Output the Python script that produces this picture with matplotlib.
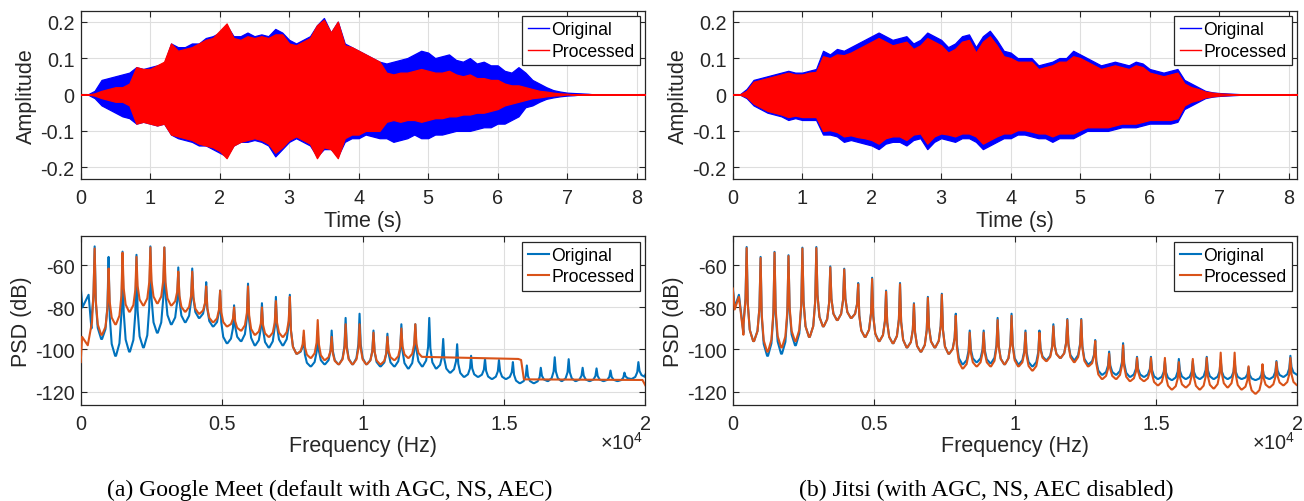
import matplotlib
matplotlib.use("Agg")
import matplotlib.pyplot as plt
from matplotlib.lines import Line2D
import numpy as np

plt.rcParams['font.family'] = ['Liberation Sans', 'DejaVu Sans']
plt.rcParams['mathtext.fontset'] = 'custom'
plt.rcParams['mathtext.rm'] = 'Liberation Sans'
plt.rcParams['mathtext.default'] = 'regular'

# ---------------- waveform envelopes (time in s) ----------------
t_env = [0.0, 0.1, 0.2, 0.3, 0.4, 0.5, 0.6, 0.7, 0.8, 0.9,
         1.0, 1.1, 1.2, 1.3, 1.4, 1.5, 1.6, 1.7, 1.8, 1.9,
         2.0, 2.1, 2.2, 2.3, 2.4, 2.5, 2.6, 2.7, 2.8, 2.9,
         3.0, 3.1, 3.2, 3.3, 3.4, 3.5, 3.6, 3.7, 3.8, 3.9,
         4.0, 4.1, 4.2, 4.3, 4.4, 4.5, 4.6, 4.7, 4.8, 4.9,
         5.0, 5.1, 5.2, 5.3, 5.4, 5.5, 5.6, 5.7, 5.8, 5.9,
         6.0, 6.1, 6.2, 6.3, 6.4, 6.5, 6.6, 6.7, 6.8, 6.9,
         7.0, 7.1, 7.2, 7.3, 7.4, 7.5, 8.12]

# (a) Google Meet
meet_orig_upper = [0, 0, 0.01, 0.04, 0.045, 0.05, 0.055, 0.06, 0.075, 0.07,
                   0.075, 0.08, 0.085, 0.14, 0.13, 0.13, 0.14, 0.14, 0.155, 0.16,
                   0.17, 0.19, 0.16, 0.16, 0.17, 0.16, 0.165, 0.16, 0.18, 0.17,
                   0.15, 0.14, 0.15, 0.16, 0.19, 0.21, 0.17, 0.2, 0.14, 0.13,
                   0.12, 0.11, 0.1, 0.09, 0.085, 0.09, 0.095, 0.1, 0.11, 0.12,
                   0.115, 0.1, 0.105, 0.11, 0.095, 0.09, 0.1, 0.085, 0.09, 0.08,
                   0.08, 0.065, 0.06, 0.075, 0.06, 0.04, 0.03, 0.02, 0.012, 0.008,
                   0.005, 0.004, 0.003, 0.002, 0, 0, 0]
meet_orig_lower = [0, 0, -0.01, -0.03, -0.04, -0.05, -0.06, -0.065, -0.08, -0.075,
                   -0.08, -0.085, -0.08, -0.11, -0.12, -0.125, -0.13, -0.14, -0.14, -0.15,
                   -0.16, -0.17, -0.14, -0.13, -0.13, -0.125, -0.13, -0.14, -0.17, -0.15,
                   -0.13, -0.12, -0.13, -0.14, -0.17, -0.15, -0.15, -0.17, -0.13, -0.12,
                   -0.12, -0.11, -0.115, -0.12, -0.12, -0.13, -0.125, -0.12, -0.11, -0.12,
                   -0.12, -0.11, -0.11, -0.105, -0.1, -0.1, -0.1, -0.095, -0.09, -0.09,
                   -0.08, -0.08, -0.07, -0.06, -0.035, -0.03, -0.02, -0.012, -0.008, -0.005,
                   -0.003, -0.002, 0, 0, 0, 0, 0]
meet_proc_upper = [0, 0, 0.003, 0.01, 0.015, 0.02, 0.02, 0.03, 0.075, 0.07,
                   0.07, 0.08, 0.09, 0.14, 0.12, 0.125, 0.13, 0.14, 0.15, 0.155,
                   0.175, 0.195, 0.155, 0.15, 0.16, 0.155, 0.16, 0.155, 0.165, 0.165,
                   0.14, 0.135, 0.145, 0.155, 0.19, 0.205, 0.17, 0.2, 0.135, 0.13,
                   0.12, 0.11, 0.1, 0.09, 0.06, 0.055, 0.06, 0.06, 0.065, 0.07,
                   0.065, 0.06, 0.06, 0.065, 0.055, 0.05, 0.055, 0.045, 0.045, 0.04,
                   0.04, 0.03, 0.025, 0.025, 0.02, 0.015, 0.01, 0.008, 0.005, 0.003,
                   0.002, 0, 0, 0, 0, 0, 0]
meet_proc_lower = [0, 0, -0.003, -0.01, -0.015, -0.02, -0.02, -0.03, -0.08, -0.075,
                   -0.08, -0.085, -0.08, -0.11, -0.115, -0.12, -0.125, -0.135, -0.14, -0.145,
                   -0.155, -0.175, -0.14, -0.13, -0.125, -0.12, -0.125, -0.135, -0.16, -0.145,
                   -0.125, -0.115, -0.125, -0.135, -0.175, -0.145, -0.15, -0.175, -0.12, -0.11,
                   -0.11, -0.1, -0.1, -0.1, -0.075, -0.07, -0.075, -0.07, -0.07, -0.075,
                   -0.07, -0.065, -0.065, -0.06, -0.06, -0.055, -0.055, -0.05, -0.05, -0.045,
                   -0.04, -0.03, -0.025, -0.02, -0.015, -0.01, -0.008, -0.005, -0.003, -0.002,
                   0, 0, 0, 0, 0, 0, 0]

# (b) Jitsi
jitsi_orig_upper = [0, 0, 0.015, 0.04, 0.045, 0.05, 0.055, 0.06, 0.065, 0.06,
                    0.06, 0.065, 0.07, 0.12, 0.11, 0.125, 0.12, 0.13, 0.14, 0.15,
                    0.16, 0.17, 0.16, 0.15, 0.155, 0.16, 0.14, 0.15, 0.17, 0.16,
                    0.15, 0.13, 0.14, 0.16, 0.165, 0.13, 0.16, 0.175, 0.15, 0.12,
                    0.115, 0.1, 0.1, 0.1, 0.08, 0.085, 0.09, 0.1, 0.1, 0.12,
                    0.11, 0.1, 0.09, 0.08, 0.085, 0.09, 0.085, 0.08, 0.09, 0.085,
                    0.07, 0.065, 0.06, 0.065, 0.07, 0.04, 0.03, 0.02, 0.01, 0.006,
                    0.004, 0.003, 0.002, 0.001, 0, 0, 0]
jitsi_orig_lower = [0, 0, -0.01, -0.03, -0.04, -0.05, -0.055, -0.06, -0.07, -0.065,
                    -0.07, -0.07, -0.07, -0.11, -0.11, -0.115, -0.13, -0.125, -0.13, -0.135,
                    -0.14, -0.15, -0.135, -0.13, -0.13, -0.14, -0.125, -0.12, -0.15, -0.13,
                    -0.12, -0.125, -0.13, -0.12, -0.12, -0.13, -0.15, -0.14, -0.13, -0.12,
                    -0.12, -0.11, -0.11, -0.115, -0.12, -0.12, -0.13, -0.12, -0.12, -0.12,
                    -0.11, -0.1, -0.1, -0.1, -0.1, -0.095, -0.09, -0.09, -0.09, -0.085,
                    -0.08, -0.08, -0.08, -0.08, -0.075, -0.04, -0.03, -0.02, -0.01, -0.006,
                    -0.004, -0.003, -0.002, -0.001, 0, 0, 0]
jitsi_proc_upper = [0, 0, 0.01, 0.035, 0.04, 0.045, 0.05, 0.055, 0.06, 0.055,
                    0.055, 0.06, 0.062, 0.105, 0.1, 0.11, 0.108, 0.115, 0.125, 0.135,
                    0.145, 0.155, 0.145, 0.135, 0.14, 0.145, 0.125, 0.135, 0.155, 0.145,
                    0.135, 0.115, 0.125, 0.145, 0.15, 0.115, 0.145, 0.16, 0.135, 0.105,
                    0.1, 0.09, 0.09, 0.09, 0.07, 0.075, 0.08, 0.09, 0.09, 0.105,
                    0.1, 0.09, 0.08, 0.07, 0.075, 0.08, 0.075, 0.07, 0.08, 0.075,
                    0.06, 0.055, 0.05, 0.055, 0.06, 0.03, 0.02, 0.015, 0.008, 0.005,
                    0.003, 0.002, 0.001, 0, 0, 0, 0]
jitsi_proc_lower = [0, 0, -0.007, -0.025, -0.035, -0.045, -0.05, -0.055, -0.062, -0.058,
                    -0.062, -0.062, -0.062, -0.1, -0.098, -0.103, -0.115, -0.112, -0.117, -0.12,
                    -0.125, -0.135, -0.12, -0.115, -0.115, -0.125, -0.11, -0.107, -0.135, -0.115,
                    -0.107, -0.11, -0.115, -0.107, -0.107, -0.115, -0.135, -0.125, -0.115, -0.107,
                    -0.107, -0.098, -0.098, -0.102, -0.107, -0.107, -0.115, -0.107, -0.107, -0.107,
                    -0.098, -0.09, -0.09, -0.09, -0.09, -0.085, -0.08, -0.08, -0.08, -0.075,
                    -0.07, -0.07, -0.07, -0.07, -0.065, -0.03, -0.02, -0.015, -0.008, -0.005,
                    -0.003, -0.002, -0.001, 0, 0, 0, 0]

# ---------------- PSD (harmonics of ~494 Hz) ----------------
harm_hz = [494, 988, 1482, 1976, 2469, 2963, 3457, 3951, 4445, 4939,
           5433, 5927, 6420, 6914, 7408, 7902, 8396, 8890, 9384, 9878,
           10371, 10865, 11359, 11853, 12347, 12841, 13335, 13829, 14322, 14816,
           15310, 15804, 16298, 16792, 17286, 17780, 18273, 18767, 19261, 19755]

# (a) Google Meet - original
meet_psd_orig_lead_hz = [0, 60, 280, 380]
meet_psd_orig_lead_db = [-70, -80, -74, -90]
meet_psd_orig_peak = [-51, -56, -53.5, -55, -51, -51.5, -61, -61.5, -68, -72,
                      -79, -68.7, -78, -75, -74, -94, -91, -91, -85, -83,
                      -91, -92.5, -88, -88, -85, -95, -97.5, -103, -104.5, -105,
                      -106, -107.6, -108.7, -103.7, -104.6, -108.7, -109, -110, -111, -106]
meet_psd_orig_floor = [-95, -103, -101, -99, -92, -88, -87, -85, -89, -97,
                       -96, -98, -99, -98, -102, -108, -107, -107, -107, -107,
                       -108, -108, -109, -108, -109, -111, -113, -113, -114, -114,
                       -116, -116, -115, -115, -115, -115, -115, -115, -114, -113]
meet_psd_orig_tail_hz = [20000]
meet_psd_orig_tail_db = [-112]

# (a) Google Meet - processed
meet_psd_proc_lead_hz = [0, 50, 250, 400]
meet_psd_proc_lead_db = [-106, -94, -98, -87]
meet_psd_proc_peak = [-52, -61.5, -54, -56, -51.5, -51.5, -63, -63, -70, -72,
                      -80, -70, -80, -77, -75, -91, -86, -94, -88, -88,
                      -92, -94, -90, -88]
meet_psd_proc_floor = [-93, -88, -82, -79, -78, -79, -82, -83, -87, -89,
                       -91, -93, -94, -94, -102, -104, -105, -107, -107, -107,
                       -107, -105, -104, -103.5]
meet_psd_proc_tail_hz = [12100, 15500, 15600, 15700, 19900, 20000]
meet_psd_proc_tail_db = [-103.5, -104.5, -105, -114.2, -114.5, -117]

# (b) Jitsi - original
jitsi_psd_orig_lead_hz = [0, 70, 220, 380]
jitsi_psd_orig_lead_db = [-70, -80, -74, -92]
jitsi_psd_orig_peak = [-51.3, -56, -53.6, -55.2, -51.6, -51.3, -60.5, -61.6, -68.4, -65.9,
                       -72, -68.4, -78, -75, -73.5, -83, -91, -91, -85, -83,
                       -91, -91, -88, -85.5, -85.5, -95.5, -101, -97, -103.5, -103.5,
                       -105.5, -104.5, -105.5, -103.5, -105, -105.5, -108.5, -108.5, -105.5, -103]
jitsi_psd_orig_floor = [-96, -103, -102, -98, -94, -89, -86, -85, -94, -96,
                        -97, -99, -101, -99, -102, -107, -106, -106.5, -107, -107,
                        -108, -105, -104, -105, -107, -112, -112, -113, -113, -114,
                        -114.5, -114, -114, -114, -114, -114, -114.5, -114, -113, -112]
jitsi_psd_orig_tail_hz = [20000]
jitsi_psd_orig_tail_db = [-112]

# (b) Jitsi - processed
jitsi_psd_proc_lead_hz = [0, 70, 220, 380]
jitsi_psd_proc_lead_db = [-71, -81, -75, -93]
jitsi_psd_proc_peak = [-51.8, -56.5, -54, -55.6, -52, -51.8, -61, -62, -69, -66.5,
                       -72.5, -69, -78.5, -75.5, -74, -84, -92, -92, -86, -84,
                       -92, -92, -89, -86, -86, -96, -102, -98, -104, -104,
                       -104, -106, -104.5, -104, -101.5, -101.5, -108, -107, -106, -104]
jitsi_psd_proc_floor = [-96, -101, -99, -96, -94, -89, -86, -85, -94, -96,
                        -97, -99, -101, -99, -102, -109, -108, -108, -107, -108,
                        -110, -105.5, -104, -106, -108, -114, -114, -115, -115, -117,
                        -119, -118, -119, -118.5, -118, -119, -121, -118, -117, -117]
jitsi_psd_proc_tail_hz = [20000]
jitsi_psd_proc_tail_db = [-117]

# ---------------- labels ----------------
time_ticks = [0, 1, 2, 3, 4, 5, 6, 7, 8]
amp_ticks = [-0.2, -0.1, 0, 0.1, 0.2]
amp_ticklabels = ['-0.2', '-0.1', '0', '0.1', '0.2']
freq_ticks = [0, 5000, 10000, 15000, 20000]
freq_ticklabels = ['0', '0.5', '1', '1.5', '2']
psd_ticks = [-120, -100, -80, -60]
psd_ticklabels = ['-120', '-100', '-80', '-60']
legend_labels = ['Original', 'Processed']
captions = ['(a) Google Meet (default with AGC, NS, AEC)',
            '(b) Jitsi (with AGC, NS, AEC disabled)']

# ---------------- styles ----------------
W, H = 1304, 502
DARK = '#262626'
GRID = '#dedede'
WAVE_COLORS = ['#0000ff', '#ff0000']
PSD_COLORS = ['#0072bd', '#d95319']
TICK_FS = 14.3
LABEL_FS = 15.5
LEG_FS = 12.7
# shape of one spectral line (offset in Hz, fraction of the height above the floor)
PEAK_OFFSETS = [-230, -110, -40, 0, 40, 110, 230]
PEAK_WEIGHTS = [0.0, 0.12, 0.4, 1.0, 0.4, 0.12, 0.0]


def psd_polyline(lead_hz, lead_db, peaks, floors, tail_hz, tail_db):
    xs = list(lead_hz)
    ys = list(lead_db)
    for k, p in enumerate(peaks):
        f = harm_hz[k]
        left = floors[k - 1] if k > 0 else lead_db[-1]
        right = floors[k]
        for off, wgt in zip(PEAK_OFFSETS, PEAK_WEIGHTS):
            if k == 0 and f + off <= lead_hz[-1]:
                continue
            base = left if off < 0 else right
            xs.append(f + off)
            ys.append(base + wgt * (p - base))
    xs += list(tail_hz)
    ys += list(tail_db)
    return np.array(xs), np.array(ys)


def style_axes(ax):
    for s in ax.spines.values():
        s.set_color(DARK)
        s.set_linewidth(0.9)
    ax.tick_params(direction='in', length=4, width=0.8, top=True, right=True,
                   color=DARK, labelcolor=DARK, labelsize=TICK_FS)
    ax.tick_params(axis='x', pad=6.5)
    ax.tick_params(axis='y', pad=4.5)
    ax.grid(True, color=GRID, lw=0.8)
    ax.set_axisbelow(True)


def legend(ax, colors, lw):
    handles = [Line2D([], [], color=c, lw=lw) for c in colors]
    lg = ax.legend(handles, legend_labels, loc='upper right', fontsize=LEG_FS,
                   fancybox=False, framealpha=1, edgecolor=DARK,
                   borderpad=0.3, labelspacing=0.25, handlelength=1.2,
                   handletextpad=0.15, borderaxespad=0.3)
    lg.get_frame().set_linewidth(0.9)
    for txt in lg.get_texts():
        txt.set_color('black')


fig = plt.figure(figsize=(W / 100, H / 100), dpi=100)

lefts = [80.7, 732.7]
aw = 564.6
ah = 168.3
top_y = 11.7
bot_y = 237.3

wave_sets = [
    (meet_orig_upper, meet_orig_lower, meet_proc_upper, meet_proc_lower),
    (jitsi_orig_upper, jitsi_orig_lower, jitsi_proc_upper, jitsi_proc_lower),
]
psd_sets = [
    [(meet_psd_orig_lead_hz, meet_psd_orig_lead_db, meet_psd_orig_peak, meet_psd_orig_floor,
      meet_psd_orig_tail_hz, meet_psd_orig_tail_db),
     (meet_psd_proc_lead_hz, meet_psd_proc_lead_db, meet_psd_proc_peak, meet_psd_proc_floor,
      meet_psd_proc_tail_hz, meet_psd_proc_tail_db)],
    [(jitsi_psd_orig_lead_hz, jitsi_psd_orig_lead_db, jitsi_psd_orig_peak, jitsi_psd_orig_floor,
      jitsi_psd_orig_tail_hz, jitsi_psd_orig_tail_db),
     (jitsi_psd_proc_lead_hz, jitsi_psd_proc_lead_db, jitsi_psd_proc_peak, jitsi_psd_proc_floor,
      jitsi_psd_proc_tail_hz, jitsi_psd_proc_tail_db)],
]
caption_x = [330, 986]

for i in range(2):
    # waveform
    ax = fig.add_axes([lefts[i] / W, 1 - (top_y + ah) / H, aw / W, ah / H])
    ou, ol, pu, pl = wave_sets[i]
    ax.fill_between(t_env, ol, ou, color=WAVE_COLORS[0], lw=0.9, zorder=2)
    ax.fill_between(t_env, pl, pu, color=WAVE_COLORS[1], lw=0.9, zorder=3)
    ax.set_xlim(0, 8.125)
    ax.set_ylim(-0.232, 0.23)
    ax.set_xticks(time_ticks)
    ax.set_xticklabels([str(v) for v in time_ticks])
    ax.set_yticks(amp_ticks)
    ax.set_yticklabels(amp_ticklabels)
    style_axes(ax)
    ax.set_xlabel('Time (s)', fontsize=LABEL_FS, color=DARK, labelpad=2)
    ax.set_ylabel('Amplitude', fontsize=LABEL_FS, color=DARK, labelpad=2)
    legend(ax, WAVE_COLORS, 1.0)

    # PSD
    ax2 = fig.add_axes([lefts[i] / W, 1 - (bot_y + ah) / H, aw / W, ah / H])
    for (series, col, z) in zip(psd_sets[i], PSD_COLORS, [2, 3]):
        x, y = psd_polyline(*series)
        ax2.plot(x, y, color=col, lw=1.5, zorder=z)
    ax2.set_xlim(0, 20000)
    ax2.set_ylim(-126.2, -46.2)
    ax2.set_xticks(freq_ticks)
    ax2.set_xticklabels(freq_ticklabels)
    ax2.set_yticks(psd_ticks)
    ax2.set_yticklabels(psd_ticklabels)
    style_axes(ax2)
    ax2.set_xlabel('Frequency (Hz)', fontsize=LABEL_FS, color=DARK, labelpad=2)
    ax2.set_ylabel('PSD (dB)', fontsize=LABEL_FS, color=DARK, labelpad=2)
    ax2.text(0.996, -0.224, '×10$^{4}$', transform=ax2.transAxes, ha='right',
             va='center', fontsize=TICK_FS, color=DARK)
    legend(ax2, PSD_COLORS, 1.5)

    fig.text(caption_x[i] / W, 1 - 490 / H, captions[i], ha='center', va='center',
             fontsize=17, family='Liberation Serif', color='black')

fig.savefig('out.png', dpi=100)
